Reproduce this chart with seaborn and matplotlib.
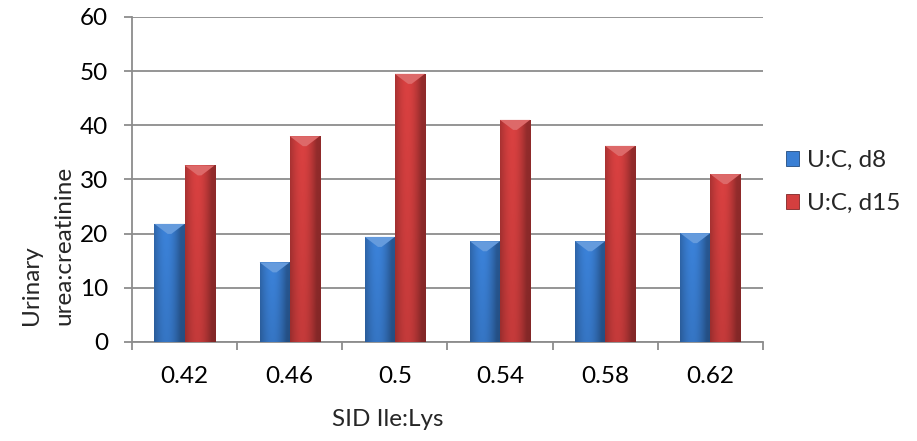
import numpy as np
import pandas as pd
import matplotlib
matplotlib.use("Agg")
import matplotlib.pyplot as plt
from matplotlib.patches import Polygon, Patch
from matplotlib.colors import to_rgb
import seaborn as sns

# Data
ratios = ["0.42", "0.46", "0.5", "0.54", "0.58", "0.62"]
uc_d8 = [21.8, 14.7, 19.4, 18.6, 18.6, 20.1]
uc_d15 = [32.6, 38.0, 49.5, 41.0, 36.2, 31.0]
series_names = ["U:C, d8", "U:C, d15"]
y_ticks = [0, 10, 20, 30, 40, 50, 60]

df = pd.DataFrame({
    "ratio": ratios * 2,
    "value": uc_d8 + uc_d15,
    "series": [series_names[0]] * len(ratios) + [series_names[1]] * len(ratios),
})

base_colors = {series_names[0]: "#3a7fd4", series_names[1]: "#d43f3f"}
FS = 17.5

sns.set_theme(style="white")
plt.rcParams["font.family"] = ["Lato", "DejaVu Sans"]

fig = plt.figure(figsize=(9.17, 4.41), dpi=100)
ax = fig.add_axes([0.1439, 0.2245, 0.688, 0.737])

sns.barplot(data=df, x="ratio", y="value", hue="series", palette=base_colors,
            width=60 / 105, gap=0, ax=ax, legend=False, errorbar=None,
            saturation=1, zorder=3)


def shade(rgb, f):
    rgb = np.array(rgb)
    if f >= 1:
        return rgb + (1 - rgb) * (f - 1)
    return rgb * f


# Bevelled, shaded fill on each bar
n = len(ratios)
for i, patch in enumerate(ax.patches[: 2 * n]):
    col = to_rgb(base_colors[series_names[i // n]])
    x0, y0 = patch.get_x(), patch.get_y()
    w, h = patch.get_width(), patch.get_height()
    xs = np.linspace(0, 1, 60)
    horiz = 0.80 + 0.28 * np.sin(np.pi * np.clip(xs * 1.15, 0, 1)) - 0.12 * xs
    ys = np.linspace(0, 1, 40)[:, None]
    vert = 0.90 + 0.10 * ys
    fac = horiz[None, :] * vert
    img = np.zeros((40, 60, 3))
    for c in range(3):
        img[..., c] = np.clip(col[c] * fac, 0, 1)
    im = ax.imshow(img, extent=[x0, x0 + w, y0, y0 + h], origin="lower",
                   aspect="auto", zorder=3.5, interpolation="bilinear")
    im.set_clip_path(patch)
    patch.set_edgecolor(shade(col, 0.55))
    patch.set_linewidth(0.6)
    # light bevel at the top of the bar
    bev = 1.85
    top = y0 + h
    ax.add_patch(Polygon([[x0, top], [x0 + w, top], [x0 + w * 0.56, top - bev],
                          [x0 + w * 0.44, top - bev]], closed=True,
                         facecolor=shade(col, 1.22), edgecolor="none", zorder=4))

ax.set_xlim(-0.5, n - 0.5)
ax.set_ylim(0, 60)
ax.set_yticks(y_ticks)
ax.set_yticklabels([str(t) for t in y_ticks])

grid_col = "#8c8c8c"
ax.grid(axis="y", color=grid_col, linewidth=1.3, zorder=0)
ax.set_axisbelow(True)
for s in ["top", "right"]:
    ax.spines[s].set_visible(False)
for s in ["left", "bottom"]:
    ax.spines[s].set_color(grid_col)
    ax.spines[s].set_linewidth(1.3)

ax.set_xticks(np.arange(-0.5, n, 1.0), minor=True)
ax.tick_params(axis="x", which="major", length=0, pad=17, labelsize=FS,
               labelcolor="black")
ax.tick_params(axis="x", which="minor", length=6, width=1.3, color=grid_col,
               direction="out", bottom=True)
ax.tick_params(axis="y", which="major", length=6, width=1.3, color=grid_col,
               direction="out", left=True, pad=11, labelsize=FS,
               labelcolor="black")

ax.set_xlabel("")
ax.set_ylabel("")
fig.text(388 / 917, 1 - 420 / 441, "SID Ile:Lys", ha="center", va="center",
         fontsize=FS)
fig.text(0.052, 1 - 325 / 441, "Urinary\nurea:creatinine", rotation=90,
         ha="center", va="bottom", multialignment="left", fontsize=FS,
         linespacing=1.7)

handles = [Patch(facecolor=base_colors[s], edgecolor=shade(to_rgb(base_colors[s]), 0.6),
                 linewidth=0.6) for s in series_names]
fig.legend(handles, series_names, loc="center left",
           bbox_to_anchor=(0.857, 1 - 182 / 441), frameon=False,
           fontsize=FS, handlelength=0.55, handleheight=0.55,
           handletextpad=0.3, labelspacing=0.9, borderaxespad=0, borderpad=0)

fig.savefig("out.png", dpi=100)
